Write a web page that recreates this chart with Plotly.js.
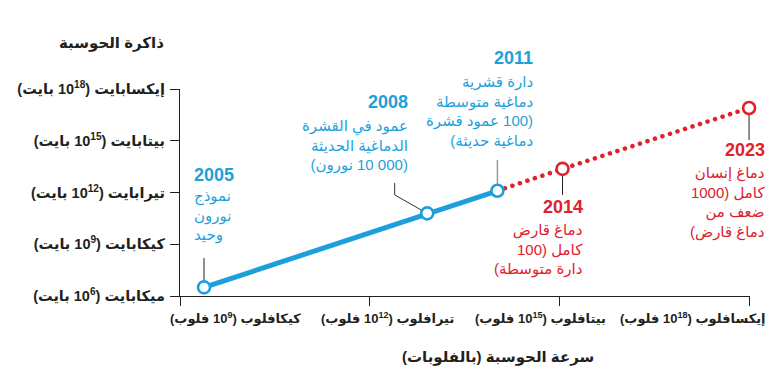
<!DOCTYPE html>
<html><head><meta charset="utf-8">
<script src="https://cdn.plot.ly/plotly-3.0.1.min.js"></script>
<style>html,body{margin:0;padding:0;background:#fff}</style>
</head><body><div id="chart" style="width:776px;height:382px"></div>
<script>
// ---- data (log10 values) ----
const years = ['2005', '2008', '2011', '2014', '2023'];
const flopsExp = [9.38, 12.91, 14.02, 15.05, 18.0];   // log10(FLOPS)
const bytesExp = [6.50, 10.79, 12.10, 13.37, 16.90];  // log10(bytes)
const notes = [
  ['نموذج', 'نورون', 'وحيد'],
  ['عمود في القشرة', 'الدماغية الحديثة', '(10\u00A0000 نورون)'],
  ['دارة قشرية', 'دماغية متوسطة', '(100 عمود قشرة', 'دماغية حديثة)'],
  ['دماغ قارض', 'كامل (100', 'دارة متوسطة)'],
  ['دماغ إنسان', 'كامل (1000', 'ضعف من', 'دماغ قارض)']
];
const yTickVals = [6, 9, 12, 15, 18];
const yTickLabels = ['ميكابايت (10<sup>6</sup> بايت)', 'كيكابايت (10<sup>9</sup> بايت)', 'تيرابايت (10<sup>12</sup> بايت)', 'بيتابايت (10<sup>15</sup> بايت)', 'إيكسابايت (10<sup>18</sup> بايت)'];
const xTickVals = [9, 12, 15, 18];
const xTickLabels = ['كيكافلوب (10<sup>9</sup> فلوب)', 'تيرافلوب (10<sup>12</sup> فلوب)', 'بيتافلوب (10<sup>15</sup> فلوب)', 'إيكسافلوب (10<sup>18</sup> فلوب)'];
const yTitle = 'ذاكرة الحوسبة';
const xTitle = 'سرعة الحوسبة (بالفلوبات)';

// ---- style ----
const BLUE = '#1d9fdb', RED = '#e1202b', INK = '#231f20';
const FONT = 'Liberation Sans, Arial, DejaVu Sans, sans-serif';
const rtl = s => '\u200F' + s + '\u200F';
const lastBlue = 2;
const XR = [9, 18.015], YR = [6, 18];
const px = v => (v - XR[0]) / (XR[1] - XR[0]);
const py = v => (v - YR[0]) / (YR[1] - YR[0]);

const traces = [
  {x: flopsExp.slice(0, lastBlue + 1), y: bytesExp.slice(0, lastBlue + 1), mode: 'lines',
   line: {color: BLUE, width: 5}, hoverinfo: 'skip'},
  {x: flopsExp.slice(lastBlue), y: bytesExp.slice(lastBlue), mode: 'lines',
   line: {color: RED, width: 4.5, dash: '4px,4px'}, hoverinfo: 'skip'},
  {x: flopsExp.slice(0, lastBlue + 1), y: bytesExp.slice(0, lastBlue + 1), mode: 'markers', cliponaxis: false,
   marker: {symbol: 'circle', size: 12, color: '#fff', line: {color: BLUE, width: 2.6}}},
  {x: flopsExp.slice(lastBlue + 1), y: bytesExp.slice(lastBlue + 1), mode: 'markers', cliponaxis: false,
   marker: {symbol: 'circle', size: 12, color: '#fff', line: {color: RED, width: 2.6}}}
];

// label placement (x = text edge, yearY / noteY = centres) in axis units
const labelPos = [
  {x: 9.205, anchor: 'left',  yearY: 13.01, noteY: 10.64},
  {x: 12.616, anchor: 'right', yearY: 17.26, noteY: 14.70},
  {x: 14.606, anchor: 'right', yearY: 19.80, noteY: 16.72},
  {x: 15.395, anchor: 'right', yearY: 11.16, noteY: 8.67},
  {x: 18.269, anchor: 'right', yearY: 14.46, noteY: 11.42}
];

const annotations = [];
years.forEach((yr, i) => {
  const col = i <= lastBlue ? BLUE : RED;
  const p = labelPos[i];
  annotations.push({x: px(p.x), y: py(p.yearY), xref: 'paper', yref: 'paper', text: '<b>' + yr + '</b>', showarrow: false,
    xanchor: p.anchor, yanchor: 'middle', align: p.anchor, borderpad: 0,
    font: {family: FONT, size: 18, color: col}});
  annotations.push({x: px(p.x), y: py(p.noteY), xref: 'paper', yref: 'paper', text: notes[i].map(rtl).join('<br>'), showarrow: false,
    xanchor: p.anchor, yanchor: 'middle', align: p.anchor, borderpad: 0,
    font: {family: FONT, size: 15, color: col}});
});
xTickLabels.forEach((t, i) => {
  annotations.push({x: 0.0965 + 0.268 * i, y: -0.106, xref: 'paper', yref: 'paper', text: rtl(t),
    showarrow: false, xanchor: 'center', yanchor: 'middle',
    font: {family: FONT, size: 13, color: INK, weight: 'bold'}});
});
annotations.push({x: -0.121, y: 1.222, xref: 'paper', yref: 'paper', text: '<b>' + yTitle + '</b>',
  showarrow: false, xanchor: 'center', yanchor: 'middle', font: {family: FONT, size: 15, color: INK}});
annotations.push({x: 0.558, y: -0.295, xref: 'paper', yref: 'paper', text: '<b>' + xTitle + '</b>',
  showarrow: false, xanchor: 'center', yanchor: 'middle', font: {family: FONT, size: 15, color: INK}});

const shapes = [
  {type: 'line', x0: flopsExp[0], x1: flopsExp[0], y0: bytesExp[0], y1: 8.20, line: {color: INK, width: 1}, layer: 'below'},
  {type: 'path', path: `M 12.395 12.55 L 12.395 11.86 L ${flopsExp[1]} ${bytesExp[1]}`, line: {color: '#333', width: 1}, layer: 'below'},
  {type: 'line', x0: flopsExp[2], x1: flopsExp[2], y0: bytesExp[2], y1: 13.88, line: {color: '#9a9a9a', width: 1.5}, layer: 'below'},
  {type: 'line', x0: flopsExp[3], x1: flopsExp[3], y0: bytesExp[3], y1: 11.86, line: {color: INK, width: 1}, layer: 'below'},
  {type: 'line', x0: flopsExp[4], x1: flopsExp[4], y0: bytesExp[4], y1: 15.04, line: {color: INK, width: 1}, layer: 'below'}
];

const layout = {
  width: 776, height: 382,
  margin: {l: 180, r: 26, t: 89, b: 86},
  paper_bgcolor: '#fff', plot_bgcolor: '#fff',
  showlegend: false,
  font: {family: FONT, color: INK},
  xaxis: {range: XR, tickvals: xTickVals, showticklabels: false, ticks: 'outside', ticklen: 9,
    tickwidth: 1, tickcolor: INK, showline: true, linecolor: INK, linewidth: 1.2, showgrid: false, zeroline: false, fixedrange: true},
  yaxis: {range: YR, tickvals: yTickVals, ticktext: yTickLabels.map(rtl), ticks: 'outside', ticklen: 9,
    tickwidth: 1, tickcolor: INK, showline: true, linecolor: INK, linewidth: 1.2, showgrid: false, zeroline: false,
    tickfont: {family: FONT, size: 14.5, color: INK, weight: 'bold'}, ticklabelstandoff: 2, fixedrange: true},
  annotations: annotations,
  shapes: shapes
};

Plotly.newPlot('chart', traces, layout, {staticPlot: true}).then(() => {
  const lines = document.querySelectorAll('.scatterlayer .trace')[1].querySelectorAll('path.js-line');
  lines.forEach(p => { p.style.strokeLinecap = 'round'; p.style.strokeDasharray = '0.1px 7.8px'; });
});
</script></body></html>
